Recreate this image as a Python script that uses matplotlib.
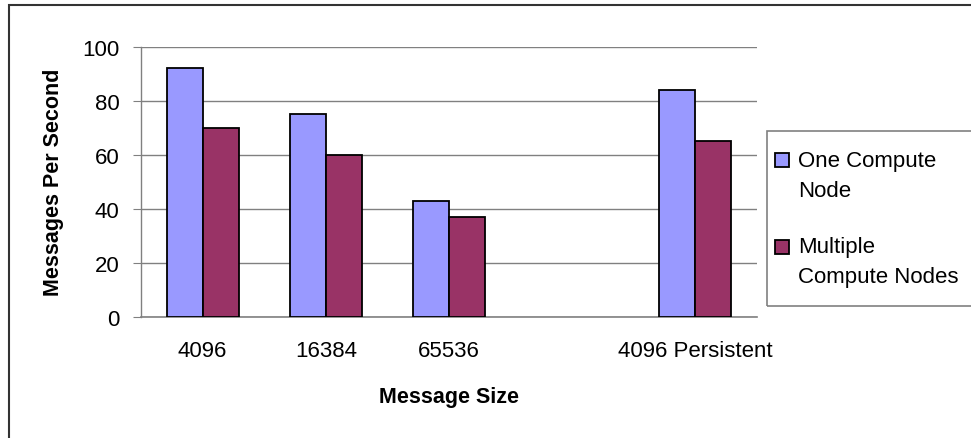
import matplotlib
matplotlib.use("Agg")
import matplotlib.pyplot as plt
from matplotlib.patches import Rectangle
import numpy as np

plt.rcParams['font.family'] = ['Liberation Sans', 'DejaVu Sans']

categories = ["4096", "16384", "65536", "", "4096 Persistent"]
one_node = [92, 75, 43, None, 84]
multi_nodes = [70, 60, 37, None, 65]
series_names = ["One Compute\nNode", "Multiple\nCompute Nodes"]
yticks = [0, 20, 40, 60, 80, 100]

W, H = 971, 439
fig = plt.figure(figsize=(W / 100, H / 100), dpi=100)
ax = fig.add_axes([141 / W, 1 - 317.7 / H, 616 / W, 270 / H])

blue = "#9999FF"
red = "#993366"
x = np.arange(len(categories))
bw = 0.292
for i, (a, b) in enumerate(zip(one_node, multi_nodes)):
    if a is not None:
        ax.bar(x[i] - bw / 2, a, bw, color=blue, edgecolor="black", linewidth=1.3, zorder=3)
    if b is not None:
        ax.bar(x[i] + bw / 2, b, bw, color=red, edgecolor="black", linewidth=1.3, zorder=3)

ax.set_xlim(-0.5, len(categories) - 0.5)
ax.set_ylim(0, 100)
ax.set_yticks(yticks)
ax.yaxis.grid(True, color="#808080", linewidth=1.0, zorder=0)
ax.set_axisbelow(True)
for s in ["top", "right"]:
    ax.spines[s].set_visible(False)
ax.spines["left"].set_color("#808080")
ax.spines["bottom"].set_color("#808080")
ax.spines["bottom"].set_linewidth(1.2)
ax.spines["left"].set_linewidth(1.0)

ax.set_xticks(x)
ax.set_xticklabels(categories, fontsize=16)
ax.tick_params(axis="x", length=0, pad=17)
ax.tick_params(axis="y", direction="out", length=6, color="#808080", labelsize=16, pad=9.5)

ax.set_ylabel("Messages Per Second", fontsize=15.5, fontweight="bold")
ax.yaxis.set_label_coords((54 - 141) / 616, 0.5)
ax.yaxis.label.set_verticalalignment("center")
ax.set_xlabel("Message Size", fontsize=15.5, fontweight="bold")
ax.xaxis.set_label_coords(0.5, -(387 - 317.7) / 270)

# legend (drawn by hand to match the spreadsheet layout)
def fx(px):
    return px / W

def fy(py):
    return 1 - py / H

frame = Rectangle((fx(766.7), fy(306.7)), 0.5, (306.7 - 131.7) / H,
                  transform=fig.transFigure, fill=False, edgecolor="#808080",
                  linewidth=1.2, zorder=5)
fig.patches.append(frame)
handle_tops = [154, 240.5]
text_baselines = [167.3, 252.7]
for name, col, ht, bl in zip(series_names, [blue, red], handle_tops, text_baselines):
    sq = Rectangle((fx(774.5), fy(ht + 14)), 14 / W, 14 / H, transform=fig.transFigure,
                   facecolor=col, edgecolor="black", linewidth=1.3, zorder=6)
    fig.patches.append(sq)
    for j, line in enumerate(name.split("\n")):
        fig.text(fx(798), fy(bl + 30 * j), line, fontsize=16, ha="left", va="baseline")

border = Rectangle((8.5 / W, -0.1), 1.2, 1 - 5.5 / H + 0.1, transform=fig.transFigure,
                   fill=False, edgecolor="#333333", linewidth=1.5, zorder=0)
fig.patches.append(border)

fig.savefig("out.png", dpi=100)
